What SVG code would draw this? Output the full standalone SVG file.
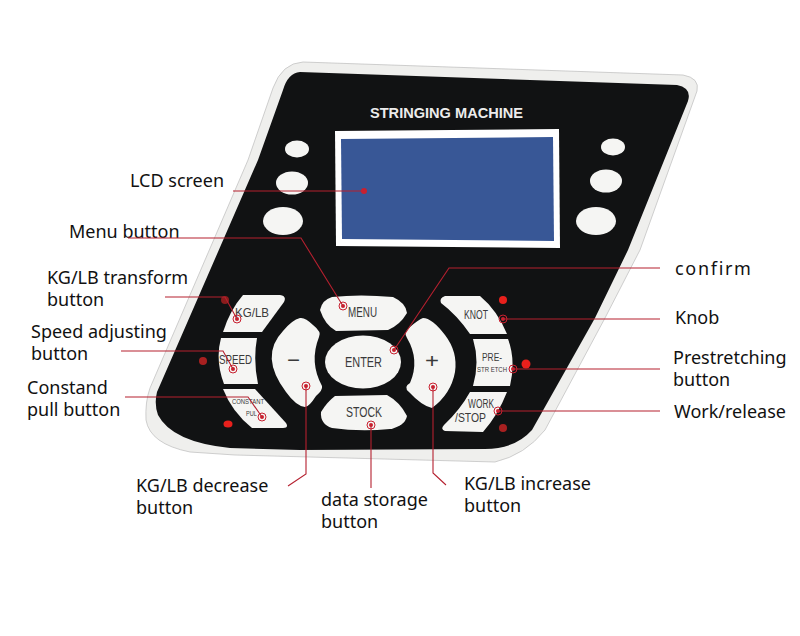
<svg xmlns="http://www.w3.org/2000/svg" width="800" height="636" viewBox="0 0 800 636">
<style>
.lb{font-family:"Noto Sans","Open Sans",sans-serif;font-size:18px;fill:#111}
.k{font-family:"Liberation Sans",Arial,sans-serif;fill:#3a3a3a}
.w{fill:#f5f5f3}
.c{fill:none;stroke:#b5202f;stroke-width:1.1}
.r{fill:none;stroke:#c8202f;stroke-width:1}
.d{fill:#c8202f}
</style>
<rect width="800" height="636" fill="#fff"/>
<g id="panel">
<path d="M303 62 L683 75 Q700 78 697 91 L640 250 L605 318 L545 430 Q525 455 495 462 L235 455 L190 452 Q150 444 146 420 Q145 402 150 388 L248 160 L273 88 Q282 63 303 62Z" fill="#efefed" stroke="#bbb" stroke-width=".7"/>
<path d="M300 72 L677 85 Q692 88 688 101 L628 250 L595 318 L532 430 Q515 449 485 449 L300 450 L230 448 Q172 442 158 415 Q154 404 157 392 L258 160 L283 90 Q288 73 300 72Z" fill="#111213"/>
<text x="370" y="118" textLength="153" lengthAdjust="spacingAndGlyphs" font-family="Liberation Sans,Arial,sans-serif" font-size="15" font-weight="700" fill="#ececec">STRINGING MACHINE</text>
</g>
<g id="lcd">
<path d="M335 131 L559 129 L560 248 L336 246Z" fill="#fff"/>
<path d="M341 139 L553 137 L554 241 L342 239Z" fill="#385796"/>
</g>
<g id="indicators" class="w">
<ellipse cx="297" cy="149" rx="12" ry="8.5"/><ellipse cx="292" cy="183" rx="16" ry="11.5"/><ellipse cx="283" cy="221" rx="20" ry="14"/>
<ellipse cx="613" cy="147" rx="12" ry="8.5"/><ellipse cx="606" cy="181" rx="16" ry="11.5"/><ellipse cx="596" cy="221" rx="20" ry="14"/>
</g>
<g id="leds">
<circle cx="225" cy="300" r="4" fill="#8a1c1c"/><circle cx="203" cy="361" r="4" fill="#a82020"/><ellipse cx="228" cy="424" rx="4.5" ry="3.5" fill="#e8201c"/>
<circle cx="503" cy="300" r="4" fill="#e8201c"/><circle cx="526" cy="364" r="4.5" fill="#e8201c"/><circle cx="503" cy="428" r="4" fill="#a82020"/>
</g>
<g id="btn-kglb"><path class="w" d="M243 295 L280 295 Q287 296 284 302 L262 332 L223 332 Q230 310 243 295Z"/><text class="k" x="235" y="317" textLength="34" lengthAdjust="spacingAndGlyphs" font-size="12">KG/LB</text></g>
<g id="btn-speed"><path class="w" d="M221 338 L257 338 Q253 360 258 384 L224 384 Q215 360 221 338Z"/><text class="k" x="219" y="364" textLength="33" lengthAdjust="spacingAndGlyphs" font-size="13">SPEED</text></g>
<g id="btn-constant"><path class="w" d="M223 389 L255 389 L286 423 Q289 428 283 428 L252 428 Q232 412 223 389Z"/><text class="k" x="232" y="404" textLength="32" lengthAdjust="spacingAndGlyphs" font-size="7">CONSTANT</text><text class="k" x="246" y="416" textLength="11" lengthAdjust="spacingAndGlyphs" font-size="7">PUL</text></g>
<g id="btn-minus"><path class="w" d="M300 318 Q305 317 313 325 Q322 332 319 337 Q309 362 322 386 Q323 390 316 396 Q309 407 305 407 Q296 406 286 392 Q259 356 283 331 Q292 320 300 318Z"/><text class="k" x="287" y="366" textLength="13" lengthAdjust="spacingAndGlyphs" font-size="18">−</text></g>
<g id="btn-menu"><path class="w" d="M332 297 Q360 294 393 297 Q406 303 407 313 Q400 325 388 330 L336 331 Q325 325 320 310 Q322 300 332 297Z"/><text class="k" x="348" y="317" textLength="29" lengthAdjust="spacingAndGlyphs" font-size="14">MENU</text></g>
<g id="btn-enter"><ellipse class="w" cx="363" cy="362" rx="38" ry="26.5"/><text class="k" x="345" y="367" textLength="37" lengthAdjust="spacingAndGlyphs" font-size="14">ENTER</text></g>
<g id="btn-stock"><path class="w" d="M335 396 L387 395 Q400 402 407 416 Q405 426 390 429 Q360 432 332 428 Q320 424 321 412 Q327 402 335 396Z"/><text class="k" x="346" y="417" textLength="36" lengthAdjust="spacingAndGlyphs" font-size="14">STOCK</text></g>
<g id="btn-plus"><path class="w" d="M423 318 Q432 318 445 335 Q458 352 455 372 Q451 394 432 408 Q422 406 409 392 Q403 387 410 383 Q420 360 407 338 Q403 333 410 327 Q418 320 423 318Z"/><text class="k" x="425" y="368" textLength="14" lengthAdjust="spacingAndGlyphs" font-size="20">+</text></g>
<g id="btn-knot"><path class="w" d="M445 296 L480 296 Q497 310 507 334 L470 334 Q457 315 441 303 Q439 298 445 296Z"/><text class="k" x="464" y="319" textLength="24" lengthAdjust="spacingAndGlyphs" font-size="13">KNOT</text></g>
<g id="btn-pre"><path class="w" d="M473 339 L508 339 Q516 360 510 386 L473 386 Q480 362 473 339Z"/><text class="k" x="482" y="361" textLength="20" lengthAdjust="spacingAndGlyphs" font-size="11">PRE-</text><text class="k" x="477" y="372" textLength="30" lengthAdjust="spacingAndGlyphs" font-size="7">STR ETCH</text></g>
<g id="btn-work"><path class="w" d="M470 392 L507 392 Q498 415 483 432 L445 431 Q440 429 444 425 Q460 410 470 392Z"/><text class="k" x="468" y="408" textLength="26" lengthAdjust="spacingAndGlyphs" font-size="12">WORK</text><text class="k" x="455" y="422" textLength="31" lengthAdjust="spacingAndGlyphs" font-size="12">/STOP</text></g>
<g id="labels">
<text class="lb" x="130" y="187">LCD screen</text>
<text class="lb" x="69" y="238">Menu button</text>
<text class="lb" x="47" y="284">KG/LB transform</text><text class="lb" x="47" y="306">button</text>
<text class="lb" x="31" y="338">Speed adjusting</text><text class="lb" x="31" y="360">button</text>
<text class="lb" x="27" y="394">Constand</text><text class="lb" x="27" y="416">pull button</text>
<text class="lb" x="136" y="492">KG/LB decrease</text><text class="lb" x="136" y="514">button</text>
<text class="lb" x="321" y="506">data storage</text><text class="lb" x="321" y="528">button</text>
<text class="lb" x="464" y="490">KG/LB increase</text><text class="lb" x="464" y="512">button</text>
<text class="lb" x="675" y="275" style="letter-spacing:1.7px">confirm</text>
<text class="lb" x="675" y="324">Knob</text>
<text class="lb" x="673" y="364">Prestretching</text><text class="lb" x="673" y="386">button</text>
<text class="lb" x="674" y="418">Work/release</text>
</g>
<g id="connectors">
<path class="c" d="M233 191 L364 191"/>
<path class="c" d="M128 238 L301 238 L343 306"/>
<path class="c" d="M165 297 L225 297 L237 319"/>
<path class="c" d="M121 351 L223 351 L233 369"/>
<path class="c" d="M125 397 L248 397 L262 417"/>
<path class="c" d="M288 486 L306 474 L306 386"/>
<path class="c" d="M371 488 L371 425"/>
<path class="c" d="M446 485 L433 473 L433 387"/>
<path class="c" d="M660 268 L449 268 L394 350"/>
<path class="c" d="M660 319 L503 319"/>
<path class="c" d="M660 369 L513 369"/>
<path class="c" d="M660 411 L498 411"/>
<g class="d"><circle cx="364" cy="191" r="3"/><circle cx="343" cy="306" r="2"/><circle cx="237" cy="319" r="2"/><circle cx="233" cy="369" r="2"/><circle cx="262" cy="417" r="2"/><circle cx="306" cy="386" r="2"/><circle cx="371" cy="425" r="2"/><circle cx="433" cy="387" r="2"/><circle cx="394" cy="350" r="2"/><circle cx="503" cy="319" r="2"/><circle cx="513" cy="369" r="2"/><circle cx="498" cy="411" r="2"/></g>
<g class="r"><circle cx="343" cy="306" r="4"/><circle cx="237" cy="319" r="4"/><circle cx="233" cy="369" r="4"/><circle cx="262" cy="417" r="4"/><circle cx="306" cy="386" r="4"/><circle cx="371" cy="425" r="4"/><circle cx="433" cy="387" r="4"/><circle cx="394" cy="350" r="4"/><circle cx="503" cy="319" r="4"/><circle cx="513" cy="369" r="4"/><circle cx="498" cy="411" r="4"/></g>
</g>
</svg>
